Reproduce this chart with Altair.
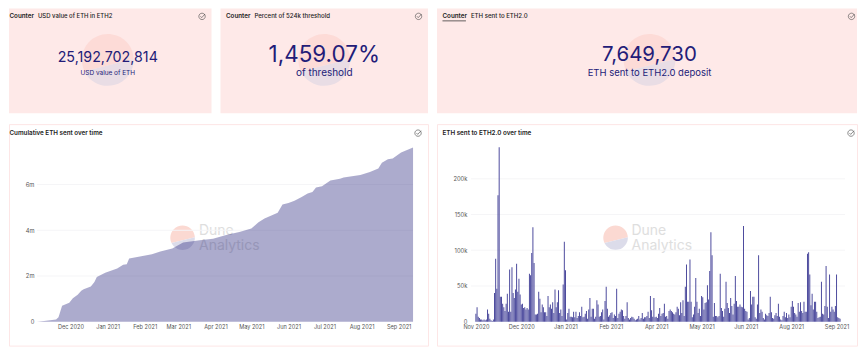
import altair as alt
import pandas as pd

# ---- data ----
START = pd.Timestamp("2020-11-03")
DAILY_K = [
    11,20,7,5,3,3,2,3,2,3,
    17,11,4,2,1,3,40,88,46,177,
    244,35,35,25,20,15,25,39,14,73,
    14,76,40,33,45,81,42,60,38,24,
    25,19,20,17,19,17,67,65,96,132,
    82,10,10,11,42,32,13,24,20,13,
    13,8,36,20,24,18,27,12,45,20,
    27,44,12,17,8,52,112,72,3,12,
    18,7,7,6,14,6,14,5,8,13,
    8,21,6,7,11,15,4,17,33,7,
    18,18,4,7,30,24,7,8,13,17,
    3,29,49,18,7,9,12,13,5,10,
    8,46,5,11,14,17,16,8,4,8,
    27,5,3,5,7,6,4,2,3,4,
    8,3,5,12,4,6,6,8,14,5,
    36,16,7,33,6,7,5,11,19,8,
    11,12,25,7,8,4,15,17,15,13,
    11,10,13,21,18,9,27,12,30,8,
    49,80,28,28,87,28,6,10,21,61,
    28,12,18,8,36,34,17,26,27,51,
    31,71,125,93,7,26,8,8,6,8,
    67,19,15,7,18,56,26,19,12,33,
    22,10,25,64,29,21,21,24,21,20,
    134,18,15,14,3,5,43,24,35,35,
    6,4,24,93,12,17,14,5,3,11,
    9,8,12,35,13,5,4,9,12,8,
    25,7,3,2,8,14,6,12,5,10,
    6,21,29,21,12,10,7,26,14,27,
    15,12,28,14,14,95,97,66,23,39,
    17,28,28,14,5,6,7,56,11,10,
    22,78,21,5,66,14,21,17,14,22,66,6,5,4,
]
CUM_DAY = [0,6,16,18,19,21,27,30,34,37,39,45,48,50,57,67,72,75,77,86,96,103,113,122,136,147,158,169,179,185,190,201,205,210,215,221,226,230,233,238,245,253,256,270,278,285,288,293,297,304,314]
CUM_M = [0,.03,.09,.19,.36,.70,.83,1.03,1.18,1.35,1.42,1.54,1.74,1.95,2.14,2.33,2.49,2.51,2.76,2.85,2.95,3.07,3.20,3.46,3.56,3.63,3.79,3.92,4.08,4.35,4.52,4.77,5.13,5.19,5.29,5.46,5.61,5.68,5.87,5.93,6.18,6.25,6.31,6.42,6.55,6.70,6.96,7.11,7.14,7.40,7.62]
LEFT_TICKS = ["2020-12-01","2021-01-01","2021-02-01","2021-03-01","2021-04-01","2021-05-01","2021-06-01","2021-07-01","2021-08-01","2021-09-01"]
RIGHT_TICKS = ["2020-11-03","2020-12-12","2021-01-19","2021-02-27","2021-04-07","2021-05-16","2021-06-23","2021-08-01","2021-09-09"]

FONT = "Inter"
NAVY = "#231c78"
PINK = "#fee9e8"
INK = "#222222"
AXIS = "#555555"
LOGO_PATH_TOP = "M-0.9 0.42A1 1 0 1 1 1 -0.05Z"
LOGO_PATH_BOT = "M-0.9 0.42A1 1 0 0 0 1 -0.05Z"
CHECK = "M1 0A1 1 0 1 1 -1 0A1 1 0 1 1 1 0ZM-0.5 -0.05L-0.1 0.4L0.95 -0.75"

one = pd.DataFrame({"a": [0]})


def txt(s, x, y, size, color=INK, weight=400, align="left", font=FONT):
    return alt.Chart(pd.DataFrame({"t": [s]})).mark_text(
        fontSize=size, color=color, fontWeight=weight, align=align, baseline="middle", font=font
    ).encode(x=alt.value(x), y=alt.value(y), text="t:N")


def sym(path, x, y, r, fill=None, stroke=None, sw=0.6):
    kw = dict(shape=path, size=(2 * r) ** 2, opacity=1)
    if fill:
        kw.update(filled=True, fill=fill, strokeWidth=0)
    else:
        kw.update(filled=False, stroke=stroke, strokeWidth=sw)
    return alt.Chart(one).mark_point(**kw).encode(x=alt.value(x), y=alt.value(y))


def logo(x, y, r, top, bot):
    return [sym(LOGO_PATH_TOP, x, y, r, fill=top), sym(LOGO_PATH_BOT, x, y, r, fill=bot)]


def counter(w, h, ox, prefix, name, namesize, nx, big, bigsize, bigy, small, smallsize, cx, cy=60, underline=False, checkx=0):
    o = 8
    layers = logo(cx - ox, cy - o, 26, "#fddbd7", "#e9dde5")
    layers += [
        txt(prefix, (nx[0]) - ox, 16 - o, 6.3, weight=600),
        txt(name, nx[1] - ox, 16 - o, namesize, weight=500),
        txt(big, cx - ox, bigy - o, bigsize, color=NAVY, align="center"),
        txt(small, cx - ox, 72.5 - o, smallsize, color=NAVY, align="center"),
        sym(CHECK, checkx - ox, 16 - o, 3.2, stroke="#444444"),
    ]
    if underline:
        layers.append(alt.Chart(one).mark_rule(color=INK, strokeWidth=0.7).encode(
            x=alt.value(nx[0] - ox), x2=alt.value(nx[0] - ox + 23.5), y=alt.value(20.5 - o)))
    return alt.layer(*layers).properties(width=w, height=h, view=alt.ViewConfig(fill=PINK, stroke=None))


def watermark(ox, cx, tx):
    o = 123
    return logo(cx - ox, 237 - o, 12.3, "#fbd9d2", "#dcdcea") + [
        txt("Dune", tx - ox, 230 - o, 14, color="#dedede", weight=400),
        txt("Analytics", tx - ox, 245.5 - o, 14, color="#dedede", weight=400),
    ]


def y_axis(values, offset, expr):
    return alt.Axis(values=values, title=None, grid=False, domain=False, ticks=False,
                    labelFontSize=5.8, labelColor=AXIS, labelFont=FONT, offset=offset, labelPadding=0,
                    labelExpr=expr)


def x_axis(values):
    return alt.Axis(values=values, format="%b %Y", title=None, grid=False, domain=False, ticks=False,
                    labelFontSize=5.6, labelColor=AXIS, labelFont=FONT, offset=-24, labelPadding=3,
                    labelOverlap=False)


def grid(values, scale, axis, x0, x1):
    return alt.Chart(pd.DataFrame({"value": values})).mark_rule(color="#f5f5f7", strokeWidth=1).encode(
        y=alt.Y("value:Q", scale=scale, axis=axis), x=alt.value(x0), x2=alt.value(x1))


# ---- left lower panel ----
LOX = 8
cum = pd.DataFrame({
    "date": [START + pd.Timedelta(days=d) for d in CUM_DAY],
    "value": [v * 1e6 for v in CUM_M],
})
y_left = alt.Scale(domain=[0, 8e6], range=[198, 14.8])
x_left = alt.Scale(domain=[START.isoformat(), (START + pd.Timedelta(days=314)).isoformat()], range=[36 - LOX, 413 - LOX])
ax_left = y_axis([0, 2e6, 4e6, 6e6], -(33 - LOX), "datum.value == 0 ? '0' : (datum.value / 1000000) + 'm'")
left = alt.layer(
    *watermark(LOX, 182, 198.5),
    grid([2e6, 4e6, 6e6], y_left, ax_left, 36 - LOX, 413 - LOX),
    alt.Chart(cum).mark_area(color="#1e1a78", opacity=0.37, interpolate="linear").encode(
        x=alt.X("date:T", scale=x_left, axis=x_axis(LEFT_TICKS)),
        y=alt.Y("value:Q", scale=y_left, axis=ax_left),
    ),
    txt("Cumulative ETH sent over time", 8.5 - LOX, 132 - 123, 6.3, weight=600),
    sym(CHECK, 418 - LOX, 132 - 123, 3.2, stroke="#444444"),
).properties(width=420, height=222, view=alt.ViewConfig(fill="white", stroke="#fde6e6", strokeWidth=1))

# ---- right lower panel ----
ROX = 437
daily = pd.DataFrame({
    "date": [START + pd.Timedelta(days=i) for i in range(len(DAILY_K))],
    "value": [v * 1000 for v in DAILY_K],
})
y_right = alt.Scale(domain=[0, 250000], range=[198, 19])
x_right = alt.Scale(domain=[START.isoformat(), (START + pd.Timedelta(days=313)).isoformat()], range=[471 - ROX, 846 - ROX])
ax_right = y_axis([0, 50000, 100000, 150000, 200000], -(467 - ROX), "datum.value == 0 ? '0' : (datum.value / 1000) + 'k'")
right = alt.layer(
    *watermark(ROX, 616, 632),
    grid([50000, 100000, 150000, 200000], y_right, ax_right, 471 - ROX, 846 - ROX),
    alt.Chart(daily).mark_bar(color="#454399", width=0.95).encode(
        x=alt.X("date:T", scale=x_right, axis=x_axis(RIGHT_TICKS)),
        y=alt.Y("value:Q", scale=y_right, axis=ax_right),
    ),
    txt("ETH sent to ETH2.0 over time", 442.5 - ROX, 132 - 123, 6.3, weight=600),
    sym(CHECK, 852 - ROX, 132 - 123, 3.2, stroke="#444444"),
).properties(width=421, height=222, view=alt.ViewConfig(fill="white", stroke="#fde6e6", strokeWidth=1))

# ---- counters ----
c1 = counter(203, 105, 8, "Counter", "USD value of ETH in ETH2", 6.0, (8.5, 37), "25,192,702,814", 14.3, 57.5,
             "USD value of ETH", 6.5, 107, checkx=201.5)
c2 = counter(208, 105, 220, "Counter", "Percent of 524k threshold", 6.1, (225.5, 254), "1,459.07%", 22.5, 54.5,
             "of threshold", 10.0, 324, checkx=418.5)
c3 = counter(421, 105, 437, "Counter", "ETH sent to ETH2.0", 6.1, (442.5, 471), "7,649,730", 20.5, 55,
             "ETH sent to ETH2.0 deposit", 9.5, 650, underline=True, checkx=852.5)

top = alt.hconcat(c1, c2, c3, spacing=9, bounds="flush")
bottom = alt.hconcat(left, right, spacing=9, bounds="flush")
chart = alt.vconcat(top, bottom, spacing=10, bounds="full").properties(padding=0).configure_view(stroke=None)

chart.save("out.html", embed_options={"renderer": "svg", "actions": False})
